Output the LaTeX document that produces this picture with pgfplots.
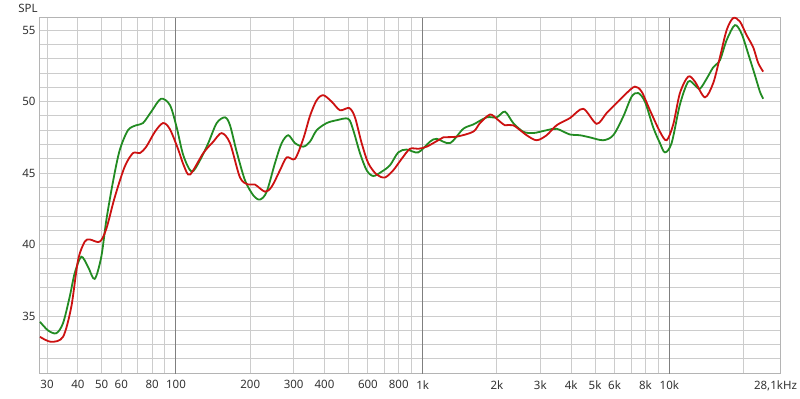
\documentclass[border=0pt]{standalone}
\usepackage{pgfplots}
\pgfplotsset{compat=1.18}
\usepackage{fontspec}
\setmainfont{Noto Sans}
\definecolor{redline}{HTML}{CC1111}
\definecolor{greenline}{HTML}{228B22}
\definecolor{gridminor}{HTML}{CCCCCC}
\definecolor{gridmajor}{HTML}{7F7F7F}
\definecolor{framecol}{HTML}{B4B4B4}

% x values are log10(frequency in Hz)
\pgfplotstableread{
x y
1.4487 33.55
1.4933 33.2
1.5420 33.55
1.5756 35.65
1.6028 38.9
1.6299 40.2
1.6502 40.36
1.6907 40.2
1.7175 41.1
1.7515 43.3
1.7921 45.45
1.8257 46.4
1.8529 46.4
1.8796 46.85
1.9149 47.9
1.9473 48.5
1.9745 48.1
2.0081 46.7
2.0324 45.5
2.0567 44.9
2.1107 46.4
2.1512 47.2
2.1852 47.8
2.2189 47.1
2.2594 44.7
2.2931 44.2
2.3202 44.2
2.3608 43.7
2.3879 44.05
2.4216 45.2
2.4487 46.1
2.4824 46.0
2.5160 47.4
2.5432 49.0
2.5703 50.1
2.5971 50.45
2.6311 50.0
2.6648 49.4
2.7025 49.55
2.7256 48.9
2.7527 47.1
2.7795 45.7
2.8135 44.9
2.8472 44.7
2.8808 45.2
2.9149 46.0
2.9485 46.7
2.9822 46.7
3.0162 46.85
3.0632 47.3
3.0835 47.5
3.1378 47.55
3.2051 47.9
3.2323 48.5
3.2728 49.1
3.3000 48.8
3.3336 48.35
3.3673 48.35
3.4216 47.65
3.4621 47.3
3.5026 47.65
3.5432 48.35
3.5971 48.85
3.6510 49.5
3.7053 48.45
3.7458 49.2
3.7864 49.9
3.8269 50.6
3.8606 51.05
3.8877 50.7
3.9214 49.4
3.9619 47.9
3.9890 47.3
4.0158 48.4
4.0430 50.6
4.0766 51.75
4.1038 51.4
4.1443 50.3
4.1780 51.3
4.2051 53.1
4.2323 55.0
4.2590 55.85
4.2862 55.6
4.3133 54.65
4.3401 53.8
4.3604 52.7
4.3806 52.1
}\redtable

\pgfplotstableread{
x y
1.4487 34.6
1.4812 34.0
1.5148 33.8
1.5420 34.5
1.5691 36.35
1.5894 38.0
1.6161 39.15
1.6433 38.45
1.6704 37.6
1.6972 39.15
1.7175 41.7
1.7446 44.4
1.7718 46.6
1.8054 48.0
1.8391 48.35
1.8662 48.5
1.8999 49.3
1.9392 50.2
1.9757 49.75
2.0028 48.2
2.0296 46.25
2.0636 45.1
2.0973 45.9
2.1309 47.1
2.1650 48.5
2.1986 48.9
2.2189 48.35
2.2460 46.5
2.2797 44.5
2.3133 43.45
2.3405 43.15
2.3677 43.7
2.4013 45.7
2.4285 47.1
2.4552 47.65
2.4824 47.1
2.5160 46.85
2.5432 47.2
2.5703 48.0
2.6109 48.5
2.6514 48.7
2.6984 48.8
2.7187 48.0
2.7458 46.4
2.7730 45.2
2.7998 44.8
2.8338 45.1
2.8675 45.55
2.9011 46.45
2.9351 46.65
2.9822 46.45
3.0296 47.2
3.0568 47.4
3.1107 47.1
3.1646 48.1
3.2051 48.4
3.2594 48.9
3.3000 48.9
3.3336 49.3
3.3673 48.5
3.4078 47.9
3.4483 47.8
3.5026 48.0
3.5432 48.1
3.5971 47.7
3.6376 47.65
3.6781 47.5
3.7321 47.3
3.7726 47.65
3.8131 48.95
3.8472 50.35
3.8739 50.6
3.9011 50.0
3.9347 48.2
3.9619 47.1
3.9822 46.45
4.0093 47.1
4.0430 49.8
4.0766 51.4
4.1038 51.15
4.1240 50.9
4.1512 51.6
4.1780 52.4
4.2051 52.9
4.2323 54.3
4.2659 55.35
4.2930 54.75
4.3198 53.35
4.3470 51.85
4.3672 50.7
4.3806 50.2
}\greentable

\begin{document}
\begin{tikzpicture}
\path[use as bounding box] (-40bp,-25bp) rectangle (760bp,374bp);
\begin{axis}[
  name=ax,
  at={(0,0)}, anchor=south west,
  scale only axis, width=740bp, height=356bp,
  xmin=1.4487, xmax=4.4487, ymin=30.95, ymax=55.85,
  clip=false,
  axis line style={draw=framecol, line width=1bp},
  xtick={1.47712,1.60206,1.69897,1.77815,1.84510,1.90309,1.95424,
         2.30103,2.47712,2.60206,2.69897,2.77815,2.84510,2.90309,2.95424,
         3.30103,3.47712,3.60206,3.69897,3.77815,3.84510,3.90309,3.95424,
         4.30103,4.4487},
  xticklabels={30,40,50,60,{},80,{},200,300,400,{},600,{},800,{},2k,3k,4k,5k,6k,{},8k,{},{},{\hspace*{-9bp}28,1kHz}},
  extra x ticks={2,3,4},
  extra x tick labels={100,1k,10k},
  extra x tick style={major grid style={draw=gridmajor, line width=1bp}},
  ytick={35,40,45,50,55},
  minor ytick={31,...,55},
  xmajorgrids, ymajorgrids, yminorgrids,
  major grid style={draw=gridminor, line width=1bp},
  minor grid style={draw=gridminor, line width=1bp},
  major tick length=0pt, minor tick length=0pt,
  tick label style={font=\fontsize{11.5bp}{13bp}\selectfont, text=black!80},
  /pgf/number format/assume math mode=true,
  xticklabel style={yshift=-3bp},
  yticklabel style={xshift=-1bp},
]
\addplot[greenline, line width=1.8bp, smooth, tension=0.5] table[x=x,y=y] {\greentable};
\addplot[redline, line width=1.8bp, smooth, tension=0.5] table[x=x,y=y] {\redtable};
\end{axis}
\node[font=\fontsize{11.5bp}{13bp}\selectfont, text=black!80] at ([xshift=-12bp, yshift=10bp]ax.north west) {SPL};
\end{tikzpicture}
\end{document}
